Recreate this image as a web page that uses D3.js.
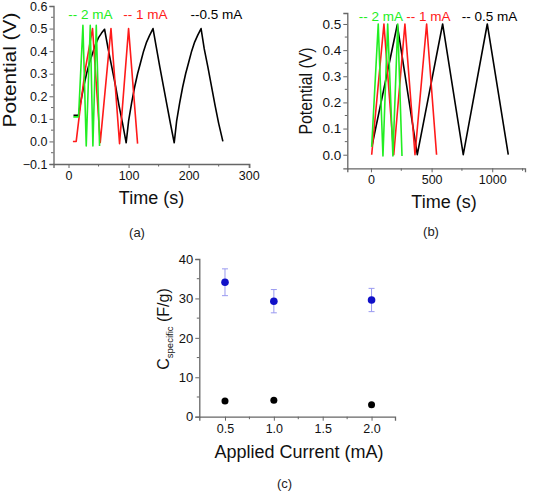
<!DOCTYPE html>
<html><head><meta charset="utf-8">
<script src="https://cdn.jsdelivr.net/npm/d3@7"></script>
<style>body{margin:0;background:#fff}svg{display:block;font-family:Arial,"Liberation Sans",sans-serif}</style>
</head><body><svg id="c" width="543" height="492"></svg>
<script>
// ---- Panel (a) data: time (s), potential (V)
const aGreenT = [8, 16.7, 24, 29.5, 36.2, 40.6, 46.2, 51.7];
const aGreenV = [0.109, 0.109, 0.514, -0.02, 0.514, -0.02, 0.514, -0.02];
const aRedT = [7.3, 12.8, 20, 28, 40, 52.8, 70.7, 85, 100, 115];
const aRedV = [0, 0, 0.16, 0.32, 0.5, -0.005, 0.5, -0.01, 0.5, -0.01];
const aBlackT = [8.3, 16.7, 20, 25, 30, 35, 40, 45, 50, 55, 60,
  66, 72, 78, 84, 90, 96,
  100, 105, 110, 115, 120, 125, 130, 135, 140.7,
  146, 152, 158, 164, 170, 176,
  180, 185, 190, 195, 200, 205, 210, 215, 220.7,
  226, 232, 238, 244, 250, 257];
const aBlackV = [0.116, 0.116, 0.17, 0.24, 0.30, 0.35, 0.39, 0.43, 0.46, 0.48, 0.497,
  0.41, 0.33, 0.25, 0.16, 0.08, -0.006,
  0.09, 0.17, 0.24, 0.30, 0.35, 0.40, 0.44, 0.47, 0.5,
  0.42, 0.33, 0.245, 0.16, 0.075, -0.006,
  0.09, 0.17, 0.24, 0.30, 0.35, 0.40, 0.44, 0.47, 0.5,
  0.41, 0.33, 0.245, 0.16, 0.08, 0.0];
const aLegend = ["-- 2 mA", "-- 1 mA", "--0.5 mA"];
const aXTicks = [0, 100, 200, 300];
const aYTicks = [-0.1, 0.0, 0.1, 0.2, 0.3, 0.4, 0.5, 0.6];

// ---- Panel (b) data
const bGreenT = [6, 60, 99, 138, 181, 221, 256];
const bGreenV = [0.03, 0.5, -0.005, 0.5, -0.005, 0.5, -0.005];
const bRedT = [6, 107, 188, 280, 363, 459, 541];
const bRedV = [0, 0.5, 0, 0.5, 0, 0.5, 0];
const bBlackT = [10, 217, 382, 591, 761, 959, 1132];
const bBlackV = [0.037, 0.497, 0, 0.5, 0, 0.5, 0];
const bLegend = ["-- 2 mA", "-- 1 mA", "-- 0.5 mA"];
const bXTicks = [0, 500, 1000];
const bYTicks = [0.0, 0.1, 0.2, 0.3, 0.4, 0.5];

// ---- Panel (c) data
const cCurrent = [0.5, 1.0, 2.0];
const cBlue = [34.1, 29.3, 29.6];
const cBlueErr = [3.4, 2.95, 2.95];
const cBlack = [4.0, 4.2, 3.0];
const cXTicks = [0.5, 1.0, 1.5, 2.0];
const cYTicks = [0, 10, 20, 30, 40];

const svg = d3.select("#c");
const axisCol = "#666";
const GREEN = "#22ee22", RED = "#ff1a1a", BLACK = "#000";

function styleAxis(g, fs){
  g.select(".domain").attr("stroke", axisCol).attr("stroke-width", 1.3);
  g.selectAll(".tick line").attr("stroke", axisCol).attr("stroke-width", 1);
  g.selectAll(".tick text").attr("fill", "#111").style("font-size", (fs || 12.5) + "px").style("font-family", "Arial, 'Liberation Sans', sans-serif");
}
function minorTicks(g, scale, vals, orient, len){
  vals.forEach(v => {
    const p = scale(v);
    if (orient === "left") g.append("line").attr("x1", 0).attr("x2", -len).attr("y1", p).attr("y2", p).attr("stroke", axisCol);
    else g.append("line").attr("y1", 0).attr("y2", len).attr("x1", p).attr("x2", p).attr("stroke", axisCol);
  });
}
function zip(t, v){ return t.map((d,i)=>[d, v[i]]); }

// ---------- Panel (a)
{
  const x = d3.scaleLinear().domain([-25, 301]).range([53.5, 249.3]);
  const y = d3.scaleLinear().domain([-0.1, 0.6]).range([164, 6]);
  const gx = svg.append("g").attr("transform", "translate(0,164)")
    .call(d3.axisBottom(x).tickValues(aXTicks).tickSize(4).tickPadding(3).tickFormat(d3.format("d")));
  styleAxis(gx);
  minorTicks(gx, x, [50, 150, 250], "bottom", 2.5);
  const gy = svg.append("g").attr("transform", "translate(53.5,0)")
    .call(d3.axisLeft(y).tickValues(aYTicks).tickSize(4).tickPadding(2).tickFormat(d3.format(".1f")));
  styleAxis(gy);
  minorTicks(gy, y, [-0.05, 0.05, 0.15, 0.25, 0.35, 0.45, 0.55], "left", 2.5);
  const line = d3.line().x(d=>x(d[0])).y(d=>y(d[1]));
  [[aBlackT,aBlackV,BLACK],[aRedT,aRedV,RED],[aGreenT,aGreenV,GREEN]].forEach(([t,v,c])=>{
    svg.append("path").attr("d", line(zip(t,v))).attr("fill","none").attr("stroke",c).attr("stroke-width",1.6).attr("stroke-linejoin","round");
  });
  const lx = [90.5, 145.5, 216.5], lc = [GREEN, RED, BLACK];
  aLegend.forEach((s,i)=> svg.append("text").attr("x", lx[i]).attr("y", 19).attr("text-anchor","middle")
    .attr("fill", lc[i]).style("font-size","13.5px").text(s));
  svg.append("text").attr("transform","translate(16,70) rotate(-90) scale(1.16,1)").attr("text-anchor","middle")
    .style("font-size","18px").attr("fill","#111").text("Potential (V)");
  svg.append("text").attr("x",151.5).attr("y",204).attr("text-anchor","middle").style("font-size","18px").attr("fill","#111").text("Time (s)");
  svg.append("text").attr("x",137).attr("y",237).attr("text-anchor","middle").style("font-size","13px").attr("fill","#222").text("(a)");
}

// ---------- Panel (b)
{
  const x = d3.scaleLinear().domain([-195, 1270]).range([347.3, 525]);
  const y = d3.scaleLinear().domain([-0.052, 0.542]).range([168.3, 13]);
  const gx = svg.append("g").attr("transform", "translate(0,168.3)")
    .call(d3.axisBottom(x).tickValues(bXTicks).tickSize(4).tickPadding(3).tickFormat(d3.format("d")));
  styleAxis(gx);
  minorTicks(gx, x, [250, 750, 1250], "bottom", 2.5);
  const gy = svg.append("g").attr("transform", "translate(347.3,0)")
    .call(d3.axisLeft(y).tickValues(bYTicks).tickSize(4).tickPadding(2).tickFormat(d3.format(".1f")));
  styleAxis(gy, 13.5);
  minorTicks(gy, y, [0.05, 0.15, 0.25, 0.35, 0.45], "left", 2.5);
  const line = d3.line().x(d=>x(d[0])).y(d=>y(d[1]));
  [[bBlackT,bBlackV,BLACK],[bRedT,bRedV,RED],[bGreenT,bGreenV,GREEN]].forEach(([t,v,c])=>{
    svg.append("path").attr("d", line(zip(t,v))).attr("fill","none").attr("stroke",c).attr("stroke-width",1.6).attr("stroke-linejoin","round");
  });
  const lx = [381, 428.5, 489.5], lc = [GREEN, RED, BLACK];
  bLegend.forEach((s,i)=> svg.append("text").attr("x", lx[i]).attr("y", 21).attr("text-anchor","middle")
    .attr("fill", lc[i]).style("font-size","13.5px").text(s));
  svg.append("text").attr("transform","translate(312,91) rotate(-90) scale(0.88,1)").attr("text-anchor","middle")
    .style("font-size","18px").attr("fill","#111").text("Potential (V)");
  svg.append("text").attr("x",444).attr("y",208).attr("text-anchor","middle").style("font-size","18px").attr("fill","#111").text("Time (s)");
  svg.append("text").attr("x",431).attr("y",236).attr("text-anchor","middle").style("font-size","13px").attr("fill","#222").text("(b)");
}

// ---------- Panel (c)
{
  const x = d3.scaleLinear().domain([0.237, 2.24]).range([199.3, 395]);
  const y = d3.scaleLinear().domain([0, 40]).range([416.7, 259]);
  const gx = svg.append("g").attr("transform", "translate(0,416.7)")
    .call(d3.axisBottom(x).tickValues(cXTicks).tickSize(4).tickPadding(3).tickFormat(d3.format(".1f")));
  styleAxis(gx);
  minorTicks(gx, x, [0.75, 1.25, 1.75], "bottom", 2.5);
  const gy = svg.append("g").attr("transform", "translate(199.3,0)")
    .call(d3.axisLeft(y).tickValues(cYTicks).tickSize(4).tickPadding(2).tickFormat(d3.format("d")));
  styleAxis(gy, 13);
  minorTicks(gy, y, [5, 15, 25, 35], "left", 2.5);
  const errCol = "#9a9af0";
  cCurrent.forEach((c,i)=>{
    const px = x(c), y1 = y(cBlue[i]+cBlueErr[i]), y2 = y(cBlue[i]-cBlueErr[i]);
    svg.append("line").attr("x1",px).attr("x2",px).attr("y1",y1).attr("y2",y2).attr("stroke",errCol).attr("stroke-width",1);
    [y1,y2].forEach(yy=> svg.append("line").attr("x1",px-3).attr("x2",px+3).attr("y1",yy).attr("y2",yy).attr("stroke",errCol).attr("stroke-width",1));
  });
  svg.selectAll("circle.b").data(cCurrent).enter().append("circle")
    .attr("cx",d=>x(d)).attr("cy",(d,i)=>y(cBlue[i])).attr("r",3.8).attr("fill","#1010c8");
  svg.selectAll("circle.k").data(cCurrent).enter().append("circle")
    .attr("cx",d=>x(d)).attr("cy",(d,i)=>y(cBlack[i])).attr("r",3.5).attr("fill","#000");
  const t = svg.append("text").attr("transform","translate(169,329) rotate(-90)").attr("text-anchor","middle")
    .style("font-size","16px").attr("fill","#111");
  t.append("tspan").text("C");
  t.append("tspan").attr("dy", 4).style("font-size","9.5px").text("specific");
  t.append("tspan").attr("dy", -4).text(" (F/g)");
  svg.append("text").attr("x",299).attr("y",458).attr("text-anchor","middle").style("font-size","18px").attr("fill","#111").text("Applied Current (mA)");
  svg.append("text").attr("x",284.5).attr("y",488).attr("text-anchor","middle").style("font-size","13px").attr("fill","#222").text("(c)");
}
</script></body></html>
